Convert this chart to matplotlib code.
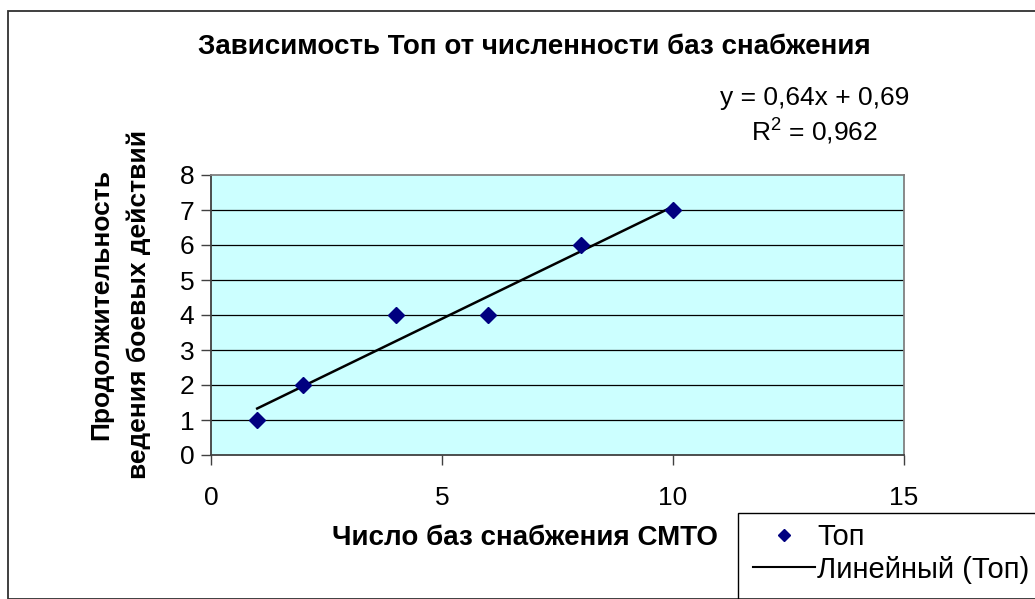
import numpy as np
import matplotlib.pyplot as plt
from matplotlib.lines import Line2D
from matplotlib.patches import Rectangle

plt.rcParams['font.family'] = ['Liberation Sans', 'DejaVu Sans']

# Число баз снабжения и продолжительность боевых действий
bases = [1, 2, 4, 6, 8, 10]
duration = [1, 2, 4, 4, 6, 7]
x_ticks = [0, 5, 10, 15]
y_ticks = [0, 1, 2, 3, 4, 5, 6, 7, 8]

W, H = 1035, 599
fig = plt.figure(figsize=(W / 100, H / 100), dpi=100)

# внешняя рамка диаграммы
fig.patches.append(Rectangle((8 / W, 0), 1.2, 1 - 11 / H, transform=fig.transFigure,
                             fill=False, edgecolor='#303030', linewidth=1.3))

ax = fig.add_axes([211 / W, 1 - 455 / H, 693 / W, 280 / H])
ax.set_facecolor('#CCFFFF')

slope, intercept = np.polyfit(bases, duration, 1)
pred = np.polyval([slope, intercept], bases)
r2 = 1 - np.sum((np.array(duration) - pred) ** 2) / np.sum((np.array(duration) - np.mean(duration)) ** 2)

for yv in y_ticks[1:-1]:
    ax.axhline(yv, color='black', linewidth=0.9, zorder=1)

xs = np.array([min(bases), max(bases)])
ax.plot(xs, slope * xs + intercept, color='black', linewidth=1.8, zorder=3)
ax.plot(bases, duration, linestyle='none', marker='D', markersize=8,
        color='#000080', zorder=4, clip_on=False)

ax.set_xlim(0, 15)
ax.set_ylim(0, 8)
ax.set_xticks(x_ticks)
ax.set_yticks(y_ticks)
ax.tick_params(direction='out', length=7, width=1, color='#404040',
               labelsize=19, pad=5)
ax.tick_params(axis='x', pad=15)
for side in ['top', 'right']:
    ax.spines[side].set_color('#808080')
    ax.spines[side].set_linewidth(1.3)
for side in ['left', 'bottom']:
    ax.spines[side].set_color('#404040')
    ax.spines[side].set_linewidth(1.3)

fig.text(534 / W, 1 - 47 / H, 'Зависимость Топ от численности баз снабжения',
         ha='center', va='center', fontsize=20, fontweight='bold')
fig.text(120 / W, 1 - 304 / H, 'Продолжительность\nведения боевых действий',
         ha='center', va='center', rotation=90, fontsize=19, fontweight='bold',
         linespacing=1.7)
fig.text(525 / W, 1 - 538 / H, 'Число баз снабжения СМТО',
         ha='center', va='center', fontsize=20, fontweight='bold')

eq = 'y = {:.2f}x + {:.2f}'.format(slope, intercept).replace('.', ',')
fig.text(815 / W, 1 - 98 / H, eq, ha='center', va='center', fontsize=19)
fig.text(815 / W, 1 - 132 / H, '$\\mathregular{R^2}$ = ' + '{:.3f}'.format(r2).replace('.', ','),
         ha='center', va='center', fontsize=19)

# рамка легенды, выходящая за край рисунка
fig.patches.append(Rectangle((738 / W, -0.1), 0.5, 0.1 + 1 - 513 / H, transform=fig.transFigure,
                             fill=False, edgecolor='black', linewidth=1.0))
handles = [Line2D([], [], linestyle='none', marker='D', markersize=6.5, color='#000080'),
           Line2D([], [], color='black', linewidth=1.5)]
leg = fig.legend(handles, ['Топ', 'Линейный (Топ)'], loc='upper left',
                 bbox_to_anchor=(746 / W, 1 - 516 / H), fontsize=21,
                 frameon=False, handlelength=2.1, handletextpad=0.1,
                 borderpad=0.25, labelspacing=0.15, borderaxespad=0)

fig.savefig('out.png', dpi=100)
